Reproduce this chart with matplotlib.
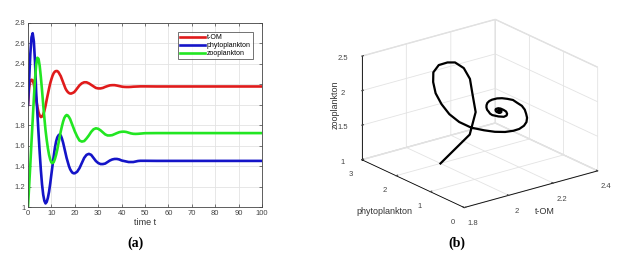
import numpy as np
import matplotlib
matplotlib.use("Agg")
import matplotlib.pyplot as plt
from matplotlib.ticker import FuncFormatter

plt.rcParams["font.family"] = ["Liberation Sans", "DejaVu Sans"]

# time grid: half steps while the oscillation is large, then coarser
t = [i * 0.5 for i in range(41)] + list(range(21, 51)) + list(range(55, 101, 5))

# values
tom = [2.00, 2.17, 2.235, 2.245, 2.24, 2.20, 2.13, 2.05, 1.98, 1.925,
       1.895, 1.88, 1.885, 1.905, 1.94, 1.99, 2.05, 2.105, 2.16, 2.21,
       2.25, 2.285, 2.31, 2.325, 2.33, 2.33, 2.32, 2.30, 2.28, 2.25,
       2.22, 2.19, 2.16, 2.14, 2.125, 2.115, 2.11, 2.11, 2.115, 2.12,
       2.13,
       2.16, 2.19, 2.21, 2.22, 2.22, 2.21, 2.195, 2.18, 2.165, 2.16,
       2.16, 2.165, 2.175, 2.183, 2.19, 2.192, 2.192, 2.188, 2.183, 2.178,
       2.175, 2.174, 2.174, 2.175, 2.177, 2.178, 2.179, 2.18, 2.18, 2.18,
       2.179, 2.179, 2.179, 2.179, 2.179, 2.179, 2.179, 2.179, 2.179, 2.179]

phyto = [2.00, 2.25, 2.50, 2.66, 2.70, 2.62, 2.42, 2.12, 1.92, 1.72,
         1.53, 1.36, 1.22, 1.12, 1.06, 1.035, 1.05, 1.09, 1.15, 1.23,
         1.32, 1.41, 1.50, 1.58, 1.64, 1.68, 1.70, 1.71, 1.70, 1.67,
         1.63, 1.58, 1.53, 1.48, 1.44, 1.40, 1.37, 1.35, 1.335, 1.33,
         1.33,
         1.345, 1.38, 1.43, 1.48, 1.51, 1.52, 1.51, 1.48, 1.45, 1.43,
         1.42, 1.42, 1.425, 1.44, 1.455, 1.465, 1.47, 1.47, 1.465, 1.455,
         1.45, 1.445, 1.44, 1.44, 1.44, 1.445, 1.45, 1.452, 1.452, 1.452,
         1.451, 1.451, 1.451, 1.451, 1.451, 1.451, 1.451, 1.451, 1.451, 1.451]

zoo = [1.00, 1.21, 1.42, 1.64, 1.85, 2.06, 2.25, 2.39, 2.46, 2.45,
       2.38, 2.27, 2.14, 2.00, 1.87, 1.75, 1.655, 1.575, 1.51, 1.465,
       1.435, 1.43, 1.44, 1.47, 1.51, 1.56, 1.62, 1.68, 1.74, 1.79,
       1.835, 1.87, 1.89, 1.90, 1.895, 1.88, 1.86, 1.83, 1.80, 1.77,
       1.74,
       1.69, 1.65, 1.64, 1.645, 1.67, 1.70, 1.735, 1.76, 1.77, 1.765,
       1.75, 1.73, 1.71, 1.70, 1.70, 1.703, 1.713, 1.723, 1.732, 1.736,
       1.737, 1.734, 1.727, 1.72, 1.716, 1.715, 1.716, 1.718, 1.72, 1.722,
       1.723, 1.723, 1.723, 1.723, 1.723, 1.723, 1.723, 1.723, 1.723, 1.723]

names = ["t-OM", "phytoplankton", "zooplankton"]
colors = ["#e01b1b", "#1414c8", "#22e622"]

fig = plt.figure(figsize=(6.35, 2.6), dpi=100)

# ---- (a) time series ----
ax = fig.add_axes([28 / 635, 53 / 260, 234 / 635, 184 / 260])
for y, c, n in zip([tom, phyto, zoo], colors, names):
    ax.plot(t, y, color=c, lw=1.9, label=n)
ax.set_xlim(0, 100)
ax.set_ylim(1, 2.8)
ax.set_xticks(range(0, 101, 10))
ax.set_yticks(np.arange(1, 2.81, 0.2))
ax.yaxis.set_major_formatter(FuncFormatter(lambda v, p: f"{v:g}"))
ax.grid(True, color="#e3e3e3", lw=0.6)
ax.tick_params(direction="in", labelsize=5.5, colors="#444444", length=2, width=0.5,
               top=True, right=True, pad=2)
for s in ax.spines.values():
    s.set_color("#444444")
    s.set_linewidth(0.6)
ax.set_xlabel("time t", fontsize=6.5, color="#333333", labelpad=1)
leg = ax.legend(loc="upper right", fontsize=5.0, handlelength=3.6, borderpad=0.3,
                labelspacing=0.15, handletextpad=0.2, fancybox=False,
                bbox_to_anchor=(0.975, 0.97))
leg.get_frame().set_edgecolor("#333333")
leg.get_frame().set_linewidth(0.6)

# ---- (b) phase portrait ----
ax3 = fig.add_axes([0.54, 0.05, 0.42, 1.0], projection="3d")
ax3.set_proj_type("ortho")
ax3.view_init(elev=21, azim=-127.5)
ax3.set_box_aspect((1, 1, 0.66), zoom=0.98)
ax3.plot(tom, phyto, zoo, color="black", lw=1.6)
ax3.set_xlim(1.8, 2.4)
ax3.set_ylim(0, 3)
ax3.set_zlim(1, 2.5)
ax3.set_xticks([1.8, 2, 2.2, 2.4])
ax3.set_yticks([0, 1, 2, 3])
ax3.set_zticks([1, 1.5, 2, 2.5])
fmt = FuncFormatter(lambda v, p: f"{v:g}")
for a in (ax3.xaxis, ax3.yaxis, ax3.zaxis):
    a.set_major_formatter(fmt)
    a.set_pane_color((1, 1, 1, 1))
    a.pane.set_edgecolor("#dddddd")
    a._axinfo["grid"]["color"] = "#e3e3e3"
    a._axinfo["grid"]["linewidth"] = 0.6
    a._axinfo["axisline"]["color"] = "#444444"
    a._axinfo["tick"]["inward_factor"] = 0.0
    a._axinfo["tick"]["outward_factor"] = 0.15
    a.line.set_linewidth(0.6)
ax3.tick_params(labelsize=5.5, colors="#444444", pad=0)
ax3.set_xlabel("")
ax3.set_ylabel("")
ax3.set_zlabel("")
fig.text(545 / 635, 1 - 212 / 260, "t-OM", fontsize=6.5, color="#333333", ha="center", va="center")
fig.text(384 / 635, 1 - 212 / 260, "phytoplankton", fontsize=6.5, color="#333333", ha="center", va="center")
fig.text(335 / 635, 1 - 105 / 260, "zooplankton", fontsize=6.5, color="#333333", ha="center",
         va="center", rotation=90)

# captions
fig.text(135 / 635, 1 - 243 / 260, "(a)", fontsize=10, fontweight="bold",
         family="Liberation Serif", ha="center", va="center")
fig.text(457 / 635, 1 - 243 / 260, "(b)", fontsize=10, fontweight="bold",
         family="Liberation Serif", ha="center", va="center")

fig.savefig("out.png", dpi=100)
